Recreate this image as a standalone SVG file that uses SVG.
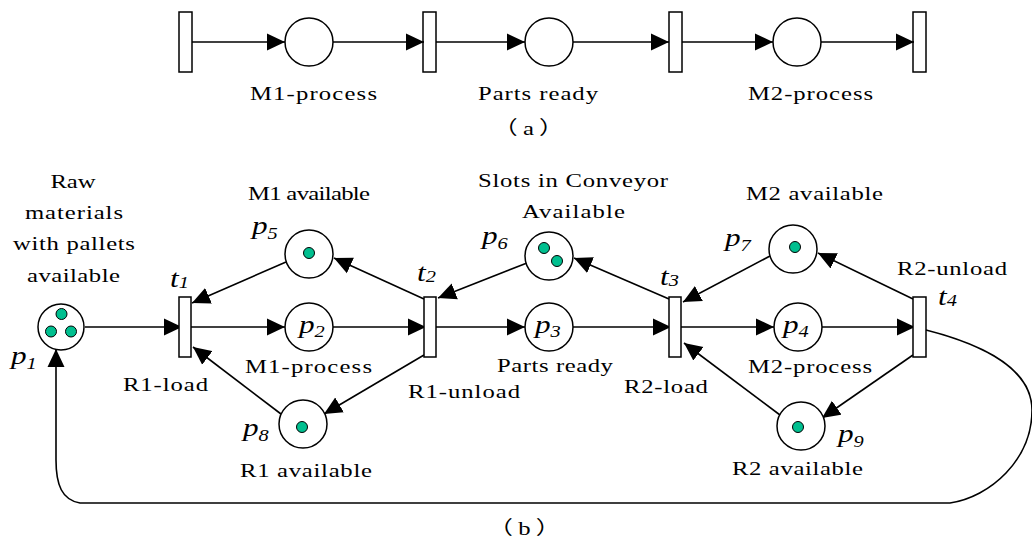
<svg xmlns="http://www.w3.org/2000/svg" width="1032" height="545" viewBox="0 0 1032 545" font-family="'Liberation Serif', 'Times New Roman', serif">
<defs>
<style>
.pl{fill:#fff;stroke:#000;stroke-width:1.5}
.tr{fill:#fff;stroke:#000;stroke-width:1.5}
.tk{fill:#00BF8F;stroke:#000;stroke-width:1}
.cn line,.cn path{stroke:#000;stroke-width:1.6;fill:none;marker-end:url(#ah)}
text{font-family:'Liberation Serif','Times New Roman','Noto Sans CJK SC',serif;font-size:19px;fill:#000}
.it{font-style:italic;font-size:26px}
.sb{font-size:17px}
.m{text-anchor:middle}
.cap{letter-spacing:4px}
</style>
<marker id="ah" viewBox="0 0 18 18" refX="18" refY="9" markerWidth="18" markerHeight="18" markerUnits="userSpaceOnUse" orient="auto">
<path d="M0,0.5 L18,9 L0,17.5 z" fill="#000"/>
</marker>
</defs>
<rect width="1032" height="545" fill="#fff"/>

<!-- (a) -->
<g id="a-t1"><rect class="tr" x="179" y="12" width="13" height="60"/></g>
<g id="a-m1"><circle class="pl" cx="309" cy="42" r="24"/><text transform="translate(250,100) scale(1.3,1)" textLength="97.7" lengthAdjust="spacing">M1-process</text></g>
<g id="a-t2"><rect class="tr" x="423" y="12" width="13" height="60"/></g>
<g id="a-pr"><circle class="pl" cx="549" cy="42" r="24"/><text transform="translate(478,100) scale(1.3,1)" textLength="92.3" lengthAdjust="spacing">Parts ready</text></g>
<g id="a-t3"><rect class="tr" x="669" y="12" width="13" height="60"/></g>
<g id="a-m2"><circle class="pl" cx="797" cy="42" r="24"/><text transform="translate(748,100) scale(1.3,1)" textLength="96.2" lengthAdjust="spacing">M2-process</text></g>
<g id="a-t4"><rect class="tr" x="913" y="12" width="13" height="60"/></g>
<text class="m cap" transform="translate(531,135) scale(1.3,1)">（a）</text>

<g class="cn" id="a-connectors">
<line x1="192" y1="42" x2="285" y2="42"/>
<line x1="333" y1="42" x2="424" y2="42"/>
<line x1="436" y1="42" x2="525" y2="42"/>
<line x1="573" y1="42" x2="669" y2="42"/>
<line x1="682" y1="42" x2="773" y2="42"/>
<line x1="821" y1="42" x2="914" y2="42"/>
</g>

<!-- (b) connectors -->
<g class="cn" id="b-connectors">
<line x1="85" y1="327" x2="182" y2="327"/>
<line x1="185" y1="327" x2="285" y2="327"/>
<line x1="333" y1="327" x2="426" y2="327"/>
<line x1="430" y1="327" x2="525" y2="327"/>
<line x1="573" y1="327" x2="671" y2="327"/>
<line x1="675" y1="327" x2="774" y2="327"/>
<line x1="822" y1="327" x2="915" y2="327"/>
<line x1="286" y1="262" x2="192" y2="303"/>
<line x1="424" y1="299" x2="334" y2="258"/>
<line x1="527" y1="263" x2="438" y2="298"/>
<line x1="669" y1="299" x2="574" y2="258"/>
<line x1="770" y1="256" x2="683" y2="302"/>
<line x1="913" y1="299" x2="818" y2="253"/>
<line x1="424" y1="355" x2="324" y2="414"/>
<line x1="281" y1="414" x2="193" y2="347"/>
<line x1="913" y1="355" x2="822" y2="418"/>
<line x1="780" y1="415" x2="684" y2="343"/>
<path d="M926,330 C985,345 1032,370 1032,410 C1032,460 990,497 950,503 L80,503 C62,500 56,485 56,460 L56,349"/>
</g>

<!-- (b) nodes -->
<g id="p1">
<circle class="pl" cx="61" cy="327" r="23"/>
<circle class="tk" cx="61.5" cy="314" r="5.5"/>
<circle class="tk" cx="51" cy="331.5" r="5.5"/>
<circle class="tk" cx="71" cy="331.5" r="5.5"/>
<text class="it" transform="translate(11,364) scale(1.2,1)">p<tspan class="sb" dy="5">1</tspan></text>
<text class="m" transform="translate(73,188) scale(1.3,1)">Raw</text>
<text transform="translate(25,219) scale(1.3,1)" textLength="75.4" lengthAdjust="spacing">materials</text>
<text transform="translate(13,250) scale(1.3,1)" textLength="93.8" lengthAdjust="spacing">with pallets</text>
<text transform="translate(27,282) scale(1.3,1)" textLength="71.5" lengthAdjust="spacing">available</text>
</g>
<g id="t1">
<rect class="tr" x="179" y="297" width="12" height="60"/>
<text class="it" transform="translate(170,287) scale(1.2,1)">t<tspan class="sb" dy="1">1</tspan></text>
<text transform="translate(123,391) scale(1.3,1)" textLength="65.4" lengthAdjust="spacing">R1-load</text>
</g>
<g id="p2">
<circle class="pl" cx="309" cy="327" r="24"/>
<text class="it" transform="translate(299,333) scale(1.2,1)">p<tspan class="sb" dy="4">2</tspan></text>
<text transform="translate(245,373) scale(1.3,1)" textLength="97.7" lengthAdjust="spacing">M1-process</text>
</g>
<g id="p5">
<circle class="pl" cx="309" cy="254" r="24"/>
<circle class="tk" cx="309" cy="253" r="5.5"/>
<text class="it" transform="translate(252,234) scale(1.2,1)">p<tspan class="sb" dy="5">5</tspan></text>
<text transform="translate(248,200) scale(1.3,1)" textLength="93.8" lengthAdjust="spacing">M1 available</text>
</g>
<g id="p8">
<circle class="pl" cx="303" cy="424" r="24"/>
<circle class="tk" cx="302" cy="427" r="5.5"/>
<text class="it" transform="translate(243,436) scale(1.2,1)">p<tspan class="sb" dy="5">8</tspan></text>
<text transform="translate(240,477) scale(1.3,1)" textLength="101.5" lengthAdjust="spacing">R1 available</text>
</g>
<g id="t2">
<rect class="tr" x="424" y="297" width="12" height="60"/>
<text class="it" transform="translate(417,281) scale(1.2,1)">t<tspan class="sb" dy="1">2</tspan></text>
<text transform="translate(408,398) scale(1.3,1)" textLength="86.2" lengthAdjust="spacing">R1-unload</text>
</g>
<g id="p3">
<circle class="pl" cx="549" cy="327" r="24"/>
<text class="it" transform="translate(535,333) scale(1.2,1)">p<tspan class="sb" dy="4">3</tspan></text>
<text transform="translate(497,372) scale(1.3,1)" textLength="89.2" lengthAdjust="spacing">Parts ready</text>
</g>
<g id="p6">
<circle class="pl" cx="549" cy="256" r="24"/>
<circle class="tk" cx="544" cy="248" r="5.5"/>
<circle class="tk" cx="557" cy="261" r="5.5"/>
<text class="it" transform="translate(482,244) scale(1.2,1)">p<tspan class="sb" dy="5">6</tspan></text>
<text transform="translate(478,187) scale(1.3,1)" textLength="146.2" lengthAdjust="spacing">Slots in Conveyor</text>
<text transform="translate(522,218) scale(1.3,1)" textLength="79.2" lengthAdjust="spacing">Available</text>
</g>
<g id="t3">
<rect class="tr" x="669" y="297" width="12" height="60"/>
<text class="it" transform="translate(660,285) scale(1.2,1)">t<tspan class="sb" dy="1">3</tspan></text>
<text transform="translate(624,393) scale(1.3,1)" textLength="64.6" lengthAdjust="spacing">R2-load</text>
</g>
<g id="p4">
<circle class="pl" cx="798" cy="327" r="24"/>
<text class="it" transform="translate(783,333) scale(1.2,1)">p<tspan class="sb" dy="4">4</tspan></text>
<text transform="translate(748,373) scale(1.3,1)" textLength="95.4" lengthAdjust="spacing">M2-process</text>
</g>
<g id="p7">
<circle class="pl" cx="793" cy="249" r="24"/>
<circle class="tk" cx="795" cy="247" r="5.5"/>
<text class="it" transform="translate(725,246) scale(1.2,1)">p<tspan class="sb" dy="5">7</tspan></text>
<text transform="translate(746,200) scale(1.3,1)" textLength="105.4" lengthAdjust="spacing">M2 available</text>
</g>
<g id="p9">
<circle class="pl" cx="801" cy="426" r="24"/>
<circle class="tk" cx="798" cy="427" r="5.5"/>
<text class="it" transform="translate(838,442) scale(1.2,1)">p<tspan class="sb" dy="5">9</tspan></text>
<text transform="translate(732,475) scale(1.3,1)" textLength="100.8" lengthAdjust="spacing">R2 available</text>
</g>
<g id="t4">
<rect class="tr" x="913" y="297" width="13" height="60"/>
<text class="it" transform="translate(938,305) scale(1.2,1)">t<tspan class="sb" dy="1">4</tspan></text>
<text transform="translate(897,275) scale(1.3,1)" textLength="84.6" lengthAdjust="spacing">R2-unload</text>
</g>
<text class="m cap" transform="translate(527,535) scale(1.3,1)">（b）</text>
</svg>
